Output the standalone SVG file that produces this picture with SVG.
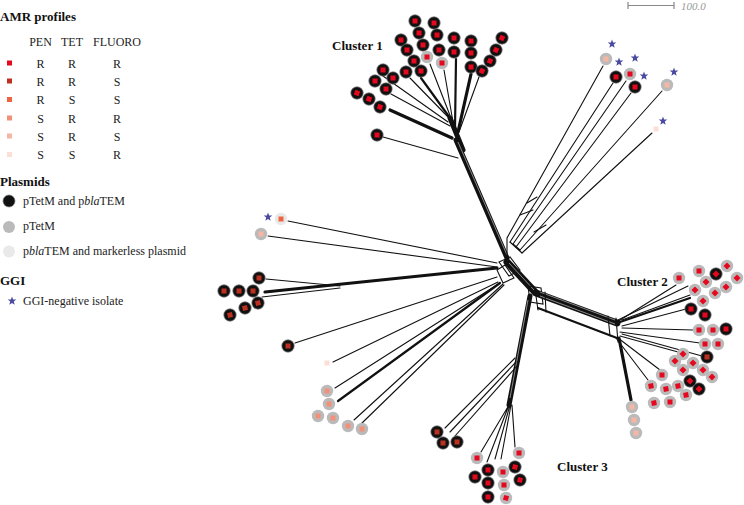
<svg xmlns="http://www.w3.org/2000/svg" width="744" height="505" viewBox="0 0 744 505">
<style>
.t{font-family:"Liberation Serif","Times New Roman",serif;fill:#222;font-size:12px}
.h{font-family:"Liberation Serif","Times New Roman",serif;fill:#111;font-size:13px;font-weight:bold}
.b{fill:#111;stroke:#777;stroke-width:.7}
.g{fill:#bababa}
.l{fill:#e9e9e9}
.s1{fill:#e6081e}.s2{fill:#bb3020}.s3{fill:#ee6440}.s4{fill:#f3907a}.s5{fill:#f7b6a4}.s6{fill:#fbdfd6}
.st{fill:#4a4aa0}
.e{fill:none;stroke:#111;stroke-width:1.1;stroke-linecap:round}
.e2{fill:none;stroke:#111;stroke-width:2.2;stroke-linecap:round}
.e3{fill:none;stroke:#111;stroke-width:3.2;stroke-linecap:round}
.e5{fill:none;stroke:#111;stroke-width:5;stroke-linecap:round}
.e7{fill:none;stroke:#111;stroke-width:7;stroke-linecap:round}
.w{fill:none;stroke:#fff;stroke-width:.5}
</style>
<defs>
<polygon id="star" points="0,-4.5 1.12,-1.54 4.28,-1.39 1.81,0.59 2.65,3.64 0,1.9 -2.65,3.64 -1.81,0.59 -4.28,-1.39 -1.12,-1.54"/>
<rect id="sq" x="-2.5" y="-2.5" width="5" height="5"/>
<rect id="dq" x="-2.5" y="-2.5" width="5" height="5" transform="rotate(45)"/>
</defs>

<!-- Legend -->
<g id="legend-amr">
<text class="h" x="0" y="21">AMR profiles</text>
<text class="t" x="40.5" y="46" text-anchor="middle">PEN</text>
<text class="t" x="72" y="46" text-anchor="middle">TET</text>
<text class="t" x="117" y="46" text-anchor="middle">FLUORO</text>
<rect class="s1" x="7" y="60.5" width="5" height="5"/>
<rect class="s2" x="7" y="78.5" width="5" height="5"/>
<rect class="s3" x="7" y="97" width="5" height="5"/>
<rect class="s4" x="7" y="115.5" width="5" height="5"/>
<rect class="s5" x="7" y="133.5" width="5" height="5"/>
<rect class="s6" x="7" y="152" width="5" height="5"/>
<g class="t" text-anchor="middle">
<text x="40.5" y="67.5">R</text><text x="72" y="67.5">R</text><text x="117" y="67.5">R</text>
<text x="40.5" y="85.5">R</text><text x="72" y="85.5">R</text><text x="117" y="85.5">S</text>
<text x="40.5" y="104">R</text><text x="72" y="104">S</text><text x="117" y="104">S</text>
<text x="40.5" y="122.5">S</text><text x="72" y="122.5">R</text><text x="117" y="122.5">R</text>
<text x="40.5" y="140.5">S</text><text x="72" y="140.5">R</text><text x="117" y="140.5">S</text>
<text x="40.5" y="159">S</text><text x="72" y="159">S</text><text x="117" y="159">R</text>
</g>
</g>
<g id="legend-plasmids">
<text class="h" x="0" y="186">Plasmids</text>
<circle class="b" cx="9" cy="201" r="6"/>
<text class="t" x="23" y="205">pTetM and p<tspan font-style="italic">bla</tspan>TEM</text>
<circle class="g" cx="9" cy="227" r="6"/>
<text class="t" x="23" y="230">pTetM</text>
<circle class="l" cx="9" cy="251.5" r="6"/>
<text class="t" x="23" y="255">p<tspan font-style="italic">bla</tspan>TEM and markerless plasmid</text>
</g>
<g id="legend-ggi">
<text class="h" x="0" y="285">GGI</text>
<use href="#star" class="st" x="12" y="301"/>
<text class="t" x="23" y="305">GGI-negative isolate</text>
</g>
<g id="scalebar">
<path d="M628,5.5 H674 M628,2 V9 M674,2 V9" stroke="#888" stroke-width="1.2" fill="none"/>
<text x="681" y="10" font-family="Liberation Serif,serif" font-style="italic" font-size="11" fill="#999">100.0</text>
</g>

<text class="h" x="332" y="50">Cluster 1</text>
<text class="h" x="617" y="286">Cluster 2</text>
<text class="h" x="557" y="471">Cluster 3</text>

<!-- Connectors -->
<g id="connectors">
<!-- cluster 1 leaves -->
<path class="e3" d="M390,110 L452,138"/>
<path class="e" d="M383,76 L448,122"/>
<path class="e" d="M391,94 L450,126"/>
<path class="e" d="M410,78 L449,118"/>
<path class="e2" d="M421,78 L450,118"/>
<path class="e" d="M430,64 L451,118"/>
<path class="e" d="M444,70 L453,122"/>
<path class="e2" d="M456,59 L455,128"/>
<path class="e3" d="M471,74 L458,132"/>
<path class="e" d="M479,77 L459,132"/>
<path class="e" d="M383,137 L458,158"/>
<path class="e5" d="M450,118 L463,150"/>
<path class="e5" d="M456,140 L507,258"/>
<path class="w" d="M458,142 L507,255"/>
<!-- top right leaves -->
<path class="e" d="M603,66 L507,238 L507,256"/>
<path class="e" d="M613,83 L510,242"/>
<path class="e" d="M626,81 L513,244"/>
<path class="e" d="M631,93 L516,247"/>
<path class="e" d="M662,91 L520,250"/>
<path class="e" d="M652,133 L522,253"/>
<path class="e" d="M527,203 L537,197 M520,215 L533,210 M534,232 L546,225 M510,242 L522,253 M513,244 L520,250"/>
<!-- left leaves -->
<path class="e" d="M288,221 L497,263"/>
<path class="e" d="M268,236 L497,267"/>
<path class="e" d="M266,279 L340,286"/>
<path class="e3" d="M265,292 L497,268"/>
<path class="e" d="M262,297 L340,288"/>
<path class="e" d="M295,343 L497,277"/>
<path class="e" d="M333,362 L498,282"/>
<path class="e" d="M335,388 L500,283"/>
<path class="e2" d="M338,401 L500,283"/>
<path class="e" d="M354,420 L503,284"/>
<path class="e" d="M362,423 L504,285"/>
<!-- central hub -->
<path class="e" d="M499,262 L510,257 L520,270 L509,276 Z M497,270 L505,265 L514,278 L503,283 Z"/>
<path class="e7" d="M507,262 L535,292"/>
<path class="w" d="M509,263 L534,290"/>
<path class="e" d="M528,286 L541,288 L543,304 L530,302 Z"/>
<!-- cluster 2 bundle -->
<path class="e7" d="M536,293 L617,323"/>
<path class="w" d="M540,292 L615,320 M540,296 L615,324"/>
<path class="e2" d="M538,308 L617,338"/>
<path class="e" d="M535,289 L538,310 M545,292 L546,312 M616,318 L618,342 M608,316 L610,336"/>
<path class="e3" d="M619,338 L631,400"/>
<path class="e" d="M617,322 L676,285"/>
<path class="e2" d="M620,322 L690,298"/>
<path class="e" d="M622,320 L690,295"/>
<path class="e" d="M618,320 L688,286"/>
<path class="e" d="M622,326 L686,309"/>
<path class="e" d="M622,328 L693,330"/>
<path class="e" d="M620,332 L700,343"/>
<path class="e" d="M622,334 L702,356"/>
<path class="e" d="M620,336 L678,352"/>
<path class="e" d="M618,338 L660,370"/>
<path class="e" d="M616,338 L648,380"/>
<!-- cluster 3 -->
<path class="e5" d="M530,296 L509,405"/>
<path class="w" d="M528,300 L510,398"/>
<path class="e" d="M509,405 L481,452 M509,405 L487,462 M510,405 L495,459 M511,405 L501,459 M512,405 L515,447"/>
<path class="e" d="M445,428 L515,358 M450,432 L516,362 M455,436 L517,366"/>
</g>

<!-- Cluster 1 nodes -->
<g id="cluster1">
<g id="n1" transform="translate(415,21)"><circle class="b" r="6.2"/><use href="#sq" class="s1"/></g>
<g id="n2" transform="translate(434,23)"><circle class="b" r="6.2"/><use href="#sq" class="s1"/></g>
<g id="n3" transform="translate(419,33)"><circle class="b" r="6.2"/><use href="#sq" class="s1"/></g>
<g id="n4" transform="translate(437,35)"><circle class="b" r="6.2"/><use href="#sq" class="s1"/></g>
<g id="n5" transform="translate(401,40)"><circle class="b" r="6.2"/><use href="#sq" class="s1"/></g>
<g id="n6" transform="translate(454,38)"><circle class="b" r="6.2"/><use href="#sq" class="s1"/></g>
<g id="n7" transform="translate(471,41)"><circle class="b" r="6.2"/><use href="#sq" class="s1"/></g>
<g id="n8" transform="translate(502,38)"><circle class="b" r="6.2"/><use href="#sq" class="s1" transform="rotate(25)"/></g>
<g id="n9" transform="translate(407,50)"><circle class="b" r="6.2"/><use href="#sq" class="s1"/></g>
<g id="n10" transform="translate(423,45)"><circle class="b" r="6.2"/><use href="#sq" class="s1"/></g>
<g id="n11" transform="translate(439,50)"><circle class="b" r="6.2"/><use href="#sq" class="s1"/></g>
<g id="n12" transform="translate(454,52)"><circle class="b" r="6.2"/><use href="#sq" class="s1"/></g>
<g id="n13" transform="translate(471,53)"><circle class="b" r="6.2"/><use href="#sq" class="s1"/></g>
<g id="n14" transform="translate(496,50)"><circle class="b" r="6.2"/><use href="#sq" class="s1" transform="rotate(25)"/></g>
<g id="n15" transform="translate(414,61)"><circle class="b" r="6.2"/><use href="#sq" class="s1"/></g>
<g id="n16" transform="translate(421,71)"><circle class="b" r="6.2"/><use href="#sq" class="s1"/></g>
<g id="n17" transform="translate(471,67)"><circle class="b" r="6.2"/><use href="#sq" class="s1"/></g>
<g id="n18" transform="translate(490,61)"><circle class="b" r="6.2"/><use href="#sq" class="s1" transform="rotate(25)"/></g>
<g id="n19" transform="translate(482,71)"><circle class="b" r="6.2"/><use href="#sq" class="s1" transform="rotate(25)"/></g>
<g id="n20" transform="translate(427,57)"><circle class="g" r="6.2"/><use href="#sq" class="s1"/></g>
<g id="n21" transform="translate(442,63)"><circle class="g" r="6.2"/><use href="#sq" class="s1"/></g>
<g id="n22" transform="translate(383,70)"><circle class="b" r="6.2"/><use href="#sq" class="s1"/></g>
<g id="n23" transform="translate(406,72)"><circle class="b" r="6.2"/><use href="#sq" class="s1"/></g>
<g id="n24" transform="translate(393,78)"><circle class="b" r="6.2"/><use href="#sq" class="s1"/></g>
<g id="n25" transform="translate(375,81)"><circle class="b" r="6.2"/><use href="#sq" class="s1"/></g>
<g id="n26" transform="translate(386,89)"><circle class="b" r="6.2"/><use href="#sq" class="s1"/></g>
<g id="n27" transform="translate(357,93)"><circle class="b" r="6.2"/><use href="#sq" class="s1" transform="rotate(20)"/></g>
<g id="n28" transform="translate(369,99)"><circle class="b" r="6.2"/><use href="#sq" class="s1" transform="rotate(20)"/></g>
<g id="n29" transform="translate(380,107)"><circle class="b" r="6.2"/><use href="#sq" class="s1" transform="rotate(20)"/></g>
<g id="n30" transform="translate(377,135)"><circle class="b" r="6.2"/><use href="#sq" class="s1"/></g>
</g>

<!-- Top right -->
<g id="topright">
<g id="n31" transform="translate(606,59)"><circle class="g" r="6.2"/><use href="#sq" class="s5"/></g>
<g id="n32" transform="translate(616,77)"><circle class="b" r="6.2"/><use href="#sq" class="s1"/></g>
<g id="n33" transform="translate(630,74)"><circle class="g" r="6.2"/><use href="#sq" class="s1"/></g>
<g id="n34" transform="translate(635,87)"><circle class="b" r="6.2"/><use href="#sq" class="s1"/></g>
<g id="n35" transform="translate(667,85)"><circle class="g" r="6.2"/><use href="#sq" class="s5"/></g>
<g id="n36" transform="translate(656,129)"><use href="#sq" class="s6"/></g>
<use href="#star" class="st" x="612" y="44"/>
<use href="#star" class="st" x="619" y="62"/>
<use href="#star" class="st" x="635" y="58"/>
<use href="#star" class="st" x="644" y="76"/>
<use href="#star" class="st" x="674" y="72"/>
<use href="#star" class="st" x="663" y="121"/>
</g>

<!-- Left -->
<g id="left">
<g id="n37" transform="translate(281,219)"><circle class="l" r="6.2"/><use href="#sq" class="s3"/></g>
<use href="#star" class="st" x="268" y="217"/>
<g id="n38" transform="translate(261,234)"><circle class="g" r="6.2"/><use href="#sq" class="s5"/></g>
<g id="n39" transform="translate(259,278)"><circle class="b" r="6.2"/><use href="#sq" class="s2"/></g>
<g id="n40" transform="translate(224,291)"><circle class="b" r="6.2"/><use href="#sq" class="s2"/></g>
<g id="n41" transform="translate(239,291)"><circle class="b" r="6.2"/><use href="#sq" class="s2"/></g>
<g id="n42" transform="translate(253,291)"><circle class="b" r="6.2"/><use href="#sq" class="s2"/></g>
<g id="n43" transform="translate(258,303)"><circle class="b" r="6.2"/><use href="#sq" class="s2" transform="rotate(-15)"/></g>
<g id="n44" transform="translate(245,308)"><circle class="b" r="6.2"/><use href="#sq" class="s2" transform="rotate(-15)"/></g>
<g id="n45" transform="translate(230,315)"><circle class="b" r="6.2"/><use href="#sq" class="s2" transform="rotate(-15)"/></g>
<g id="n46" transform="translate(288,346)"><circle class="b" r="6.2"/><use href="#sq" class="s2"/></g>
<g id="n47" transform="translate(327,363)"><use href="#sq" class="s6"/></g>
<g id="n48" transform="translate(327,391)"><circle class="g" r="6.2"/><use href="#sq" class="s4"/></g>
<g id="n49" transform="translate(329,404)"><circle class="g" r="6.2"/><use href="#sq" class="s4"/></g>
<g id="n50" transform="translate(318,416)"><circle class="g" r="6.2"/><use href="#sq" class="s4"/></g>
<g id="n51" transform="translate(333,418)"><circle class="g" r="6.2"/><use href="#sq" class="s4"/></g>
<g id="n52" transform="translate(348,426)"><circle class="g" r="6.2"/><use href="#sq" class="s4"/></g>
<g id="n53" transform="translate(362,429)"><circle class="g" r="6.2"/><use href="#sq" class="s4"/></g>
</g>

<!-- Cluster 3 -->
<g id="cluster3">
<g id="n54" transform="translate(437,432)"><circle class="b" r="6.2"/><use href="#sq" class="s2"/></g>
<g id="n55" transform="translate(443,443)"><circle class="b" r="6.2"/><use href="#sq" class="s2"/></g>
<g id="n56" transform="translate(457,442)"><circle class="b" r="6.2"/><use href="#sq" class="s2"/></g>
<g id="n57" transform="translate(477,458)"><circle class="g" r="6.2"/><use href="#sq" class="s1"/></g>
<g id="n58" transform="translate(519,453)"><circle class="g" r="6.2"/><use href="#sq" class="s1"/></g>
<g id="n59" transform="translate(488,470)"><circle class="b" r="6.2"/><use href="#sq" class="s1"/></g>
<g id="n60" transform="translate(503,472)"><circle class="g" r="6.2"/><use href="#sq" class="s1"/></g>
<g id="n61" transform="translate(515,467)"><circle class="b" r="6.2"/><use href="#sq" class="s1" transform="rotate(15)"/></g>
<g id="n62" transform="translate(475,477)"><circle class="b" r="6.2"/><use href="#sq" class="s1"/></g>
<g id="n63" transform="translate(488,483)"><circle class="b" r="6.2"/><use href="#sq" class="s1"/></g>
<g id="n64" transform="translate(504,485)"><circle class="g" r="6.2"/><use href="#sq" class="s1"/></g>
<g id="n65" transform="translate(520,480)"><circle class="b" r="6.2"/><use href="#sq" class="s1" transform="rotate(15)"/></g>
<g id="n66" transform="translate(488,497)"><circle class="b" r="6.2"/><use href="#sq" class="s1"/></g>
<g id="n67" transform="translate(506,498)"><circle class="g" r="6.2"/><use href="#sq" class="s1" transform="rotate(15)"/></g>
</g>

<!-- Cluster 2 -->
<g id="cluster2">
<g id="n68" transform="translate(679,278)"><circle class="g" r="6.2"/><use href="#sq" class="s1"/></g>
<g id="n69" transform="translate(699,271)"><circle class="g" r="6.2"/><use href="#sq" class="s1"/></g>
<g id="n70" transform="translate(727,266)"><circle class="g" r="6.2"/><use href="#dq" class="s1"/></g>
<g id="n71" transform="translate(716,274)"><circle class="b" r="6.2"/><use href="#dq" class="s1"/></g>
<g id="n72" transform="translate(737,278)"><circle class="g" r="6.2"/><use href="#dq" class="s1"/></g>
<g id="n73" transform="translate(706,282)"><circle class="g" r="6.2"/><use href="#dq" class="s1"/></g>
<g id="n74" transform="translate(726,287)"><circle class="g" r="6.2"/><use href="#dq" class="s1"/></g>
<g id="n75" transform="translate(695,290)"><circle class="g" r="6.2"/><use href="#dq" class="s1"/></g>
<g id="n76" transform="translate(715,293)"><circle class="g" r="6.2"/><use href="#dq" class="s1"/></g>
<g id="n77" transform="translate(703,301)"><circle class="g" r="6.2"/><use href="#dq" class="s1"/></g>
<g id="n78" transform="translate(691,309)"><circle class="b" r="6.2"/><use href="#sq" class="s1"/></g>
<g id="n79" transform="translate(705,315)"><circle class="b" r="6.2"/><use href="#sq" class="s1"/></g>
<g id="n80" transform="translate(699,330)"><circle class="g" r="6.2"/><use href="#sq" class="s1"/></g>
<g id="n81" transform="translate(713,330)"><circle class="g" r="6.2"/><use href="#sq" class="s1"/></g>
<g id="n82" transform="translate(726,329)"><circle class="b" r="6.2"/><use href="#sq" class="s1"/></g>
<g id="n83" transform="translate(705,344)"><circle class="g" r="6.2"/><use href="#sq" class="s1"/></g>
<g id="n84" transform="translate(718,344)"><circle class="g" r="6.2"/><use href="#sq" class="s1"/></g>
<g id="n85" transform="translate(707,357)"><circle class="b" r="6.2"/><use href="#sq" class="s2"/></g>
<g id="n86" transform="translate(683,354)"><circle class="g" r="6.2"/><use href="#dq" class="s1"/></g>
<g id="n87" transform="translate(675,361)"><circle class="g" r="6.2"/><use href="#dq" class="s1"/></g>
<g id="n88" transform="translate(693,363)"><circle class="g" r="6.2"/><use href="#dq" class="s1"/></g>
<g id="n89" transform="translate(683,370)"><circle class="g" r="6.2"/><use href="#dq" class="s1"/></g>
<g id="n90" transform="translate(703,370)"><circle class="g" r="6.2"/><use href="#dq" class="s1"/></g>
<g id="n91" transform="translate(662,375)"><circle class="g" r="6.2"/><use href="#sq" class="s1"/></g>
<g id="n92" transform="translate(712,377)"><circle class="g" r="6.2"/><use href="#dq" class="s1"/></g>
<g id="n93" transform="translate(690,381)"><circle class="b" r="6.2"/><use href="#dq" class="s1"/></g>
<g id="n94" transform="translate(699,389)"><circle class="b" r="6.2"/><use href="#dq" class="s1"/></g>
<g id="n95" transform="translate(651,386)"><circle class="g" r="6.2"/><use href="#sq" class="s1" transform="rotate(-10)"/></g>
<g id="n96" transform="translate(666,389)"><circle class="g" r="6.2"/><use href="#sq" class="s1" transform="rotate(-10)"/></g>
<g id="n97" transform="translate(678,386)"><circle class="g" r="6.2"/><use href="#sq" class="s1" transform="rotate(-10)"/></g>
<g id="n98" transform="translate(686,395)"><circle class="g" r="6.2"/><use href="#sq" class="s1" transform="rotate(-10)"/></g>
<g id="n99" transform="translate(654,403)"><circle class="g" r="6.2"/><use href="#sq" class="s1" transform="rotate(-10)"/></g>
<g id="n100" transform="translate(670,402)"><circle class="g" r="6.2"/><use href="#sq" class="s1"/></g>
<g id="n101" transform="translate(632,407)"><circle class="g" r="6.2"/><use href="#sq" class="s5"/></g>
<g id="n102" transform="translate(634,420)"><circle class="g" r="6.2"/><use href="#sq" class="s5"/></g>
<g id="n103" transform="translate(636,433)"><circle class="g" r="6.2"/><use href="#sq" class="s5"/></g>
</g>
</svg>
